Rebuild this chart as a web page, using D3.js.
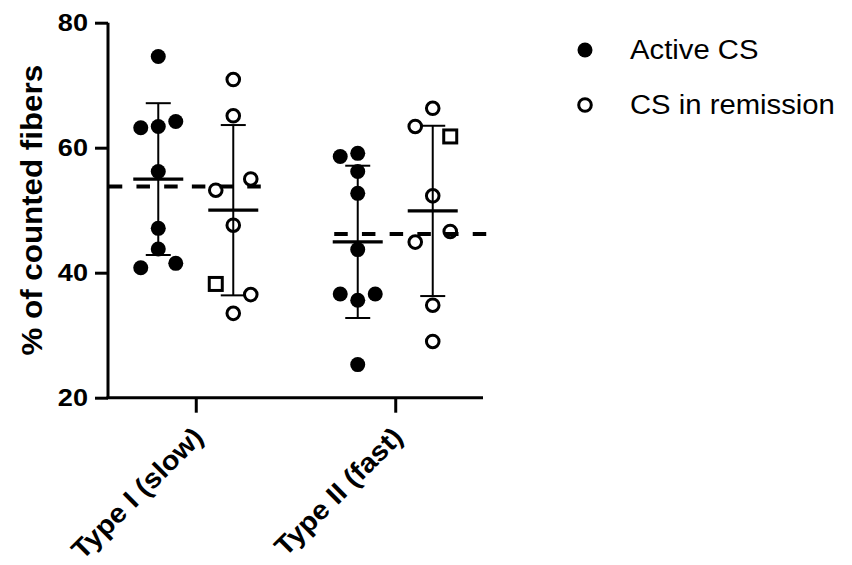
<!DOCTYPE html>
<html>
<head>
<meta charset="utf-8">
<script src="https://cdn.jsdelivr.net/npm/d3@7"></script>
<style>
  html, body { margin: 0; padding: 0; background: #fff; }
  svg { display: block; }
  text { font-family: "Liberation Sans", Arial, Helvetica, sans-serif; }
</style>
</head>
<body>
<svg id="chart" width="852" height="565"></svg>
<script>
// ---- Data ----
const categories = ["Type I (slow)", "Type II (fast)"];
const seriesNames = ["Active CS", "CS in remission"];
const yTicks = [20, 40, 60, 80];

const activeTypeI      = [74.6, 63.2, 63.4, 64.2, 56.2, 47.1, 43.8, 40.8, 41.5];
const activeTypeISlot  = [0, -1, 0, 1, 0, 0, 0, -1, 1];

const remissionTypeI      = [70.9, 65.1, 53.2, 55.0, 47.6, 38.2, 36.5, 33.5];
const remissionTypeISlot  = [0, 0, -1, 1, 0, -1, 1, 0];
const remissionTypeIShape = ["circle", "circle", "circle", "circle", "circle", "square", "circle", "circle"];

const activeTypeII     = [58.6, 59.1, 56.2, 52.7, 43.7, 36.6, 35.6, 36.6, 25.3];
const activeTypeIISlot = [-1, 0, 0, 0, 0, -1, 0, 1, 0];

const remissionTypeII      = [66.3, 63.4, 61.8, 52.3, 44.9, 46.6, 34.8, 29.0];
const remissionTypeIISlot  = [0, -1, 1, 0, -1, 1, 0, 0];
const remissionTypeIIShape = ["circle", "circle", "square", "circle", "circle", "circle", "circle", "circle"];

// dashed reference lines (one per category)
const referenceValues = [53.8, 46.2];

// ---- Build groups ----
const groups = [
  { cat: categories[0], series: 0, values: activeTypeI,     slots: activeTypeISlot,     shapes: activeTypeI.map(() => "circle") },
  { cat: categories[0], series: 1, values: remissionTypeI,  slots: remissionTypeISlot,  shapes: remissionTypeIShape },
  { cat: categories[1], series: 0, values: activeTypeII,    slots: activeTypeIISlot,    shapes: activeTypeII.map(() => "circle") },
  { cat: categories[1], series: 1, values: remissionTypeII, slots: remissionTypeIISlot, shapes: remissionTypeIIShape }
];

// ---- Layout ----
const svg = d3.select("#chart");
const x = d3.scalePoint().domain(categories).range([108, 483]).padding(0.44);
const y = d3.scaleLinear().domain([20, 80]).range([397.7, 22.7]);
const groupOffset = 37.5;   // px between category centre and series column
const slotWidth = 17.5;     // px between jittered points
const colX = g => x(g.cat) + (g.series === 0 ? -groupOffset : groupOffset);

// ---- Reference dashed lines ----
const refExtents = [[-87, 67], [-61, 92]];
svg.append("g").selectAll("line").data(referenceValues).join("line")
  .attr("x1", (d, i) => x(categories[i]) + refExtents[i][0])
  .attr("x2", (d, i) => x(categories[i]) + refExtents[i][1])
  .attr("y1", d => y(d)).attr("y2", d => y(d))
  .attr("stroke", "#000").attr("stroke-width", 4)
  .attr("stroke-dasharray", "13.5,14.2");

// ---- Error bars (mean ± SD) ----
const stats = groups.map(g => ({ g, mean: d3.mean(g.values), sd: d3.deviation(g.values) }));
const eb = svg.append("g");
stats.forEach(s => {
  const cx = colX(s.g);
  eb.append("line").attr("x1", cx).attr("x2", cx)
    .attr("y1", y(s.mean + s.sd)).attr("y2", y(s.mean - s.sd))
    .attr("stroke", "#000").attr("stroke-width", 2);
  [s.mean + s.sd, s.mean - s.sd].forEach(v => {
    eb.append("line").attr("x1", cx - 12.5).attr("x2", cx + 12.5)
      .attr("y1", y(v)).attr("y2", y(v))
      .attr("stroke", "#000").attr("stroke-width", 2);
  });
  eb.append("line").attr("x1", cx - 25).attr("x2", cx + 25)
    .attr("y1", y(s.mean)).attr("y2", y(s.mean))
    .attr("stroke", "#000").attr("stroke-width", 3.2);
});

// ---- Points ----
const pts = svg.append("g");
groups.forEach(g => {
  g.values.forEach((v, i) => {
    const px = colX(g) + g.slots[i] * slotWidth;
    const py = y(v);
    if (g.shapes[i] === "square") {
      pts.append("rect").attr("x", px - 6.5).attr("y", py - 6.5)
        .attr("width", 13).attr("height", 13)
        .attr("fill", "none").attr("stroke", "#000").attr("stroke-width", 3);
    } else if (g.series === 0) {
      pts.append("circle").attr("cx", px).attr("cy", py).attr("r", 7.5).attr("fill", "#000");
    } else {
      pts.append("circle").attr("cx", px).attr("cy", py).attr("r", 6.3)
        .attr("fill", "none").attr("stroke", "#000").attr("stroke-width", 3);
    }
  });
});

// ---- Axes ----
const yAxis = svg.append("g").attr("transform", "translate(108,0)")
  .call(d3.axisLeft(y).tickValues(yTicks).tickSize(13).tickPadding(7).tickFormat(d3.format("d")));
yAxis.select(".domain").attr("d", `M0,${y(80)}V${y(20)}`).attr("stroke-width", 3);
yAxis.selectAll(".tick line").attr("stroke-width", 3);
yAxis.selectAll(".tick text")
  .attr("font-size", 24).attr("font-weight", "bold").attr("fill", "#000")
  .each(function() {
    // widen slightly about the text's right edge (anchor end)
    const xPos = +d3.select(this).attr("x");
    d3.select(this).attr("transform", `translate(${xPos},0) scale(1.13,1) translate(${-xPos},0)`);
  });

const xAxis = svg.append("g").attr("transform", `translate(0,${y(20)})`)
  .call(d3.axisBottom(x).tickSize(15).tickFormat(""));
xAxis.select(".domain").attr("d", "M106.5,0H483").attr("stroke-width", 3);
xAxis.selectAll(".tick line").attr("stroke-width", 3);

svg.append("g").selectAll("text").data(categories).join("text")
  .attr("transform", d => `translate(${x(d) + 9},${y(20) + 41}) rotate(-45) scale(1.07,1)`)
  .attr("text-anchor", "end")
  .attr("font-size", 27).attr("font-weight", "bold").attr("fill", "#000")
  .text(d => d);

// y title
svg.append("text")
  .attr("transform", `translate(42,${(y(80) + y(20)) / 2}) rotate(-90) scale(1.08,1)`)
  .attr("text-anchor", "middle")
  .attr("font-size", 29).attr("font-weight", "bold").attr("fill", "#000")
  .text("% of counted fibers");

// ---- Legend ----
const lg = svg.append("g");
lg.append("circle").attr("cx", 585).attr("cy", 50).attr("r", 7.5).attr("fill", "#000");
lg.append("circle").attr("cx", 585).attr("cy", 105).attr("r", 6.3)
  .attr("fill", "none").attr("stroke", "#000").attr("stroke-width", 3);
lg.selectAll("text.lab").data(seriesNames).join("text").attr("class", "lab")
  .attr("transform", (d, i) => `translate(630,${58.5 + i * 55}) scale(1.045,1)`)
  .attr("font-size", 28).attr("fill", "#000")
  .text(d => d);
</script>
</body>
</html>
